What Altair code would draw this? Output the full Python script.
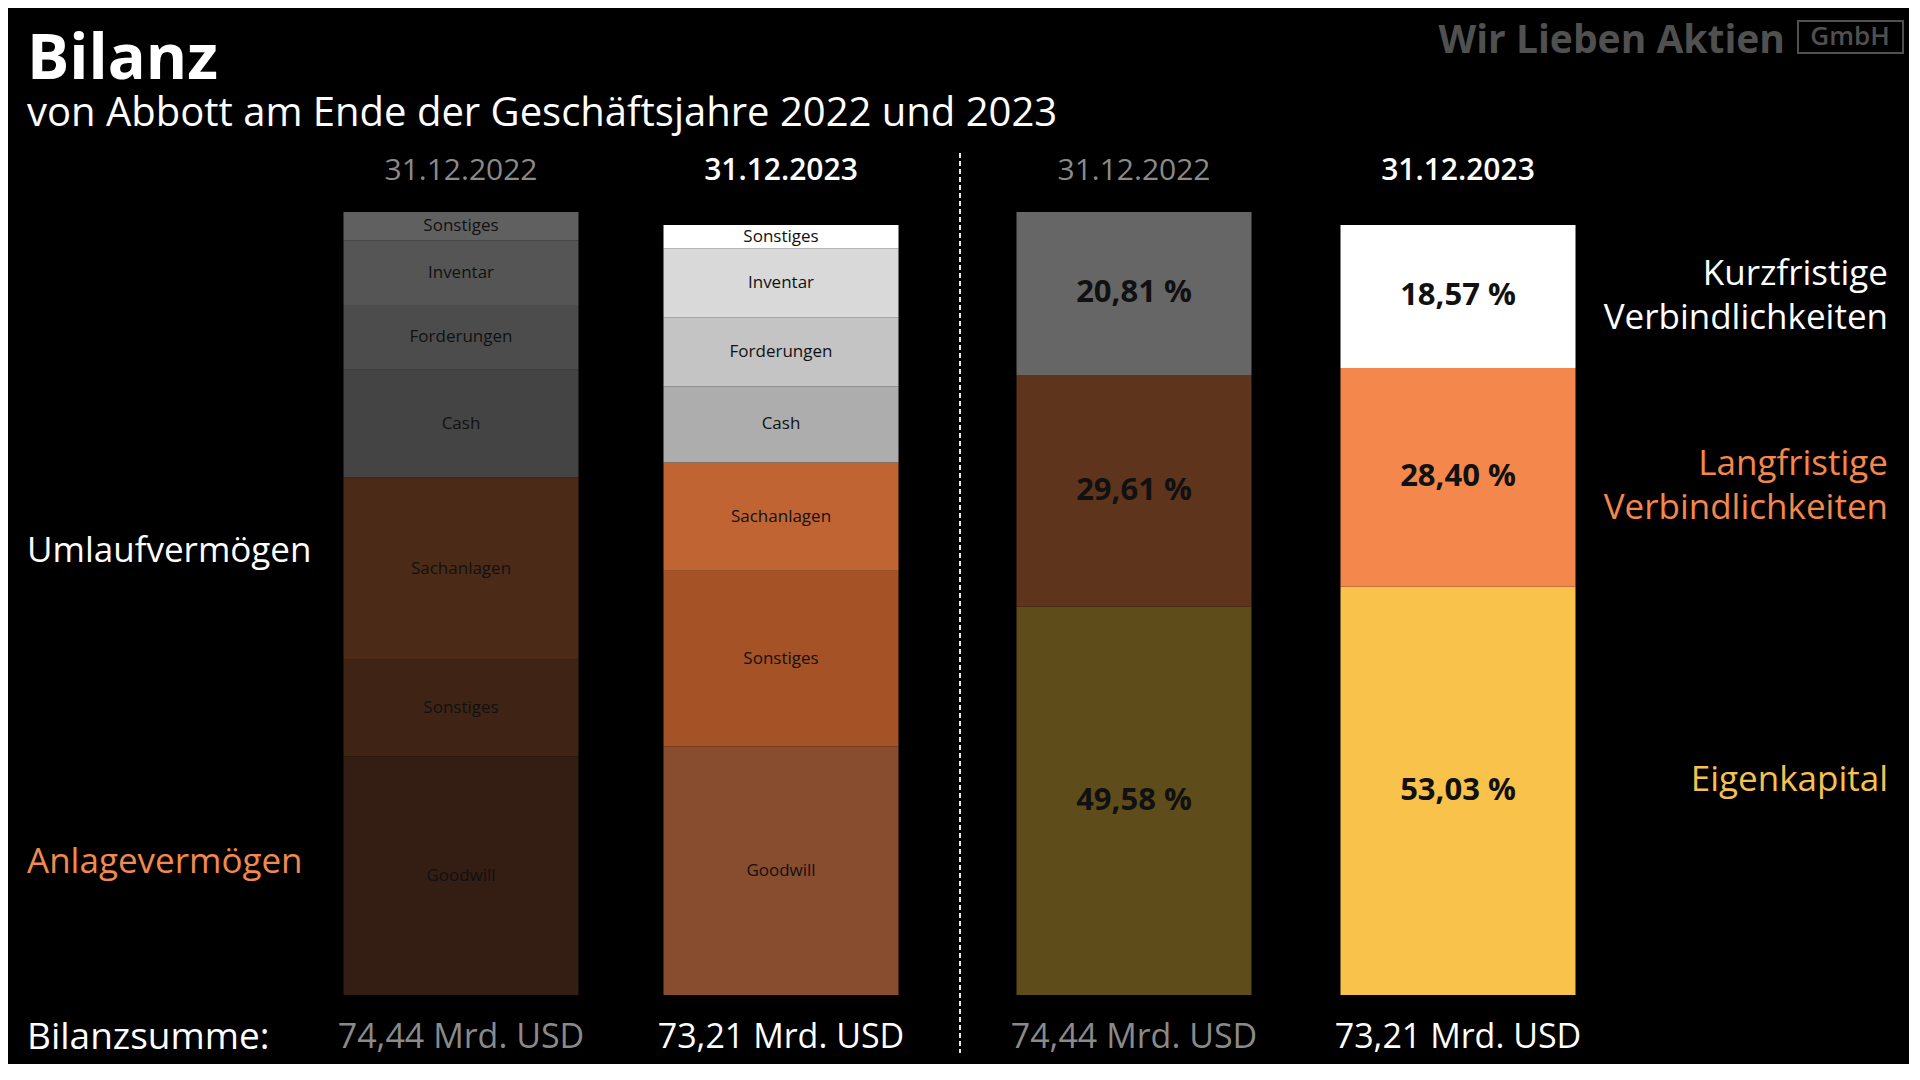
import altair as alt
import pandas as pd

# ---------------- data ----------------
stichtage = ["31.12.2022", "31.12.2023"]
bilanzsumme = [74.44, 73.21]  # Mrd. USD

aktiva_posten = ["Goodwill", "Sonstiges AV", "Sachanlagen", "Cash", "Forderungen", "Inventar", "Sonstiges UV"]
aktiva_beschriftung = ["Goodwill", "Sonstiges", "Sachanlagen", "Cash", "Forderungen", "Inventar", "Sonstiges"]
aktiva_2022 = [22.68, 9.19, 17.33, 10.24, 6.16, 6.16, 2.68]
aktiva_2023 = [23.62, 16.72, 10.29, 7.25, 6.55, 6.55, 2.23]

passiva_posten = ["Eigenkapital", "Langfristige Verbindlichkeiten", "Kurzfristige Verbindlichkeiten"]
passiva_2022_prozent = [49.58, 29.61, 20.81]
passiva_2023_prozent = [53.03, 28.40, 18.57]

# ---------------- styles ----------------
FONT = "Open Sans"
aktiva_farben = ["#341d13", "#3f2415", "#4b2b18", "#444444", "#4c4c4c", "#555555", "#606060",
                 "#884c2f", "#a55226", "#c06434", "#adadad", "#c4c4c4", "#d9d9d9", "#ffffff"]
passiva_farben = ["#5e4c1b", "#5e341d", "#666666",
                  "#f8c24b", "#f4874b", "#ffffff"]
GRAU = "#8a8a8a"


def de(v):
    return f"{v:.2f}".replace(".", ",")


def stapel(werte_je_datum, posten, texte_je_datum):
    rows = []
    for d, werte, texte in zip(stichtage, werte_je_datum, texte_je_datum):
        basis = 0.0
        for p, t, w in zip(posten, texte, werte):
            rows.append({"stichtag": d, "schluessel": f"{d} {p}", "text": t,
                         "von": basis, "bis": basis + w, "mitte": basis + w / 2})
            basis += w
    return pd.DataFrame(rows)


aktiva_df = stapel([aktiva_2022, aktiva_2023], aktiva_posten,
                   [aktiva_beschriftung, aktiva_beschriftung])
passiva_prozent = [passiva_2022_prozent, passiva_2023_prozent]
passiva_werte = [[s * p / 100 for p in pr] for s, pr in zip(bilanzsumme, passiva_prozent)]
passiva_df = stapel(passiva_werte, passiva_posten,
                    [[de(p) + " %" for p in pr] for pr in passiva_prozent])
kopf_df = pd.DataFrame({"stichtag": stichtage,
                        "summe": [de(s) + " Mrd. USD" for s in bilanzsumme]})
eins = pd.DataFrame({"n": [0]})

W_A, W_P, H = 640, 648, 783

X = alt.X("stichtag:N", scale=alt.Scale(domain=stichtage, paddingInner=0, paddingOuter=0), axis=None)
YS = alt.Scale(domain=[0, max(bilanzsumme)], nice=False, zero=False)


def note(text, x, y, size, color, align="left", baseline="middle", weight="normal"):
    return alt.Chart(eins).mark_text(text=text, font=FONT, fontSize=size, color=color,
                                     align=align, baseline=baseline, fontWeight=weight).encode(
        x=alt.value(x), y=alt.value(y))


def kopf_und_summe():
    layers = []
    for d, col, wt in zip(stichtage, [GRAU, "#ffffff"], ["normal", 600]):
        base = alt.Chart(kopf_df).transform_filter(alt.datum.stichtag == d)
        layers.append(base.mark_text(font=FONT, fontSize=30, color=col, fontWeight=wt,
                                     baseline="middle").encode(x=X, y=alt.value(-41), text="stichtag:N"))
        layers.append(base.mark_text(font=FONT, fontSize=34, color=col, fontWeight="normal",
                                     baseline="middle").encode(x=X, y=alt.value(826), text="summe:N"))
    return layers


def balken(df, keys, farben, size, weight):
    bars = alt.Chart(df).mark_bar(width=235).encode(
        x=X,
        y=alt.Y("von:Q", scale=YS, axis=None),
        y2="bis:Q",
        color=alt.Color("schluessel:N", scale=alt.Scale(domain=keys, range=farben), legend=None),
    )
    labels = alt.Chart(df).mark_text(font=FONT, fontSize=size, color="#111111", fontWeight=weight,
                                     baseline="middle").encode(
        x=X, y=alt.Y("mitte:Q", scale=YS, axis=None), text="text:N")
    return [bars, labels]


akt_keys = [f"{d} {p}" for d in stichtage for p in aktiva_posten]
pas_keys = [f"{d} {p}" for d in stichtage for p in passiva_posten]

LX = -274
panel_a = alt.layer(
    *balken(aktiva_df, akt_keys, aktiva_farben, 17, "normal"),
    *kopf_und_summe(),
    note("Bilanz", LX, -133, 63, "#ffffff", baseline="alphabetic", weight="bold"),
    note("von Abbott am Ende der Geschäftsjahre 2022 und 2023", LX, -86, 40, "#ffffff", baseline="alphabetic"),
    note("Umlaufvermögen", LX, 339, 35, "#ffffff"),
    note("Anlagevermögen", LX, 650, 35, "#f08a4e"),
    note("Bilanzsumme:", LX, 826, 37, "#ffffff"),
    alt.Chart(eins).mark_rule(strokeDash=[5, 3], color="#e8e8e8", strokeWidth=2).encode(
        x=alt.value(659), y=alt.value(-59), y2=alt.value(841)),
).properties(width=W_A, height=H)

RX = 916
panel_p = alt.layer(
    *balken(passiva_df, pas_keys, passiva_farben, 31, "bold"),
    *kopf_und_summe(),
    note("Kurzfristige", RX, 62, 35, "#ffffff", align="right"),
    note("Verbindlichkeiten", RX, 106, 35, "#ffffff", align="right"),
    note("Langfristige", RX, 252, 35, "#f4874b", align="right"),
    note("Verbindlichkeiten", RX, 296, 35, "#f4874b", align="right"),
    note("Eigenkapital", RX, 568, 35, "#f5c24f", align="right"),
    note("Wir Lieben Aktien", 813, -159, 39, "#505050", align="right", baseline="alphabetic", weight="bold"),
    alt.Chart(eins).mark_rect(fillOpacity=0, stroke="#505050", strokeWidth=2).encode(
        x=alt.value(826), x2=alt.value(931), y=alt.value(-191), y2=alt.value(-159)),
    note("GmbH", 878, -175, 26, "#505050", align="center", weight=600),
).properties(width=W_P, height=H)

chart = alt.hconcat(panel_a, panel_p, spacing=31, bounds="flush").resolve_scale(
    x="independent", y="independent", color="independent"
).properties(
    background="#000000",
    padding={"left": 19, "top": 12, "right": 5, "bottom": 8},
).configure_view(strokeWidth=0)

chart.save("out.html", embed_options={"renderer": "svg", "actions": False})
